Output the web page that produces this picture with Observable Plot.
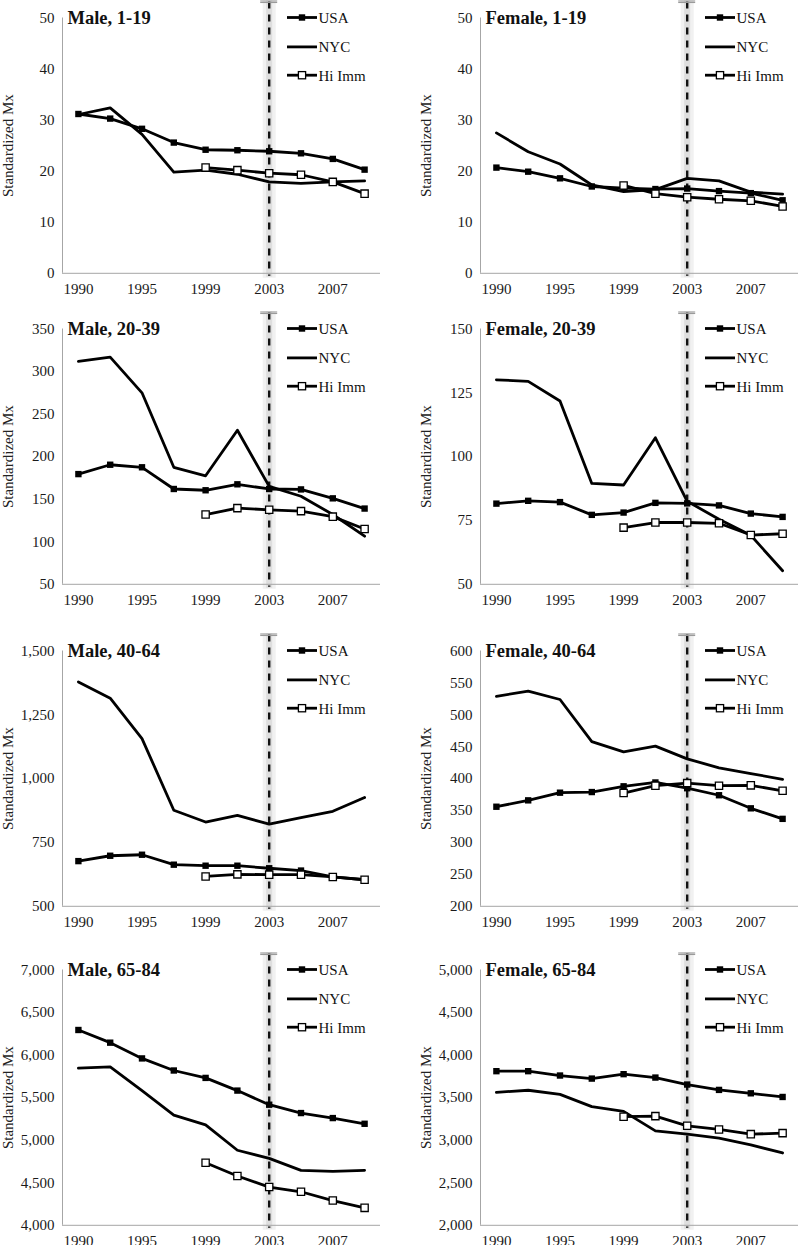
<!DOCTYPE html>
<html><head><meta charset="utf-8">
<script src="https://cdn.jsdelivr.net/npm/d3@7"></script>
<script src="https://cdn.jsdelivr.net/npm/@observablehq/plot@0.6"></script>
<style>
body{margin:0;background:#fff;}
#wrap{position:relative;width:798px;height:1245px;overflow:hidden;background:#fff;}
.panel{position:absolute;}
.panel svg{overflow:visible;font-family:"Liberation Serif","Times New Roman",Times,serif !important;font-size:15px;}
.panel svg text{font-family:"Liberation Serif","Times New Roman",Times,serif !important;}
</style></head><body><div id="wrap"></div>
<script>
// Category years (only every other one is labelled on the axis)
const years = ["1990","1992","1995","1997","1999","2001","2003","2005","2007","2009"];
const tickYears = ["1990","1995","1999","2003","2007"];
const hiImmYears = ["1999","2001","2003","2005","2007","2009"];
const seriesNames = ["USA","NYC","Hi Imm"];
const markerYear = "2003";

// Male, 1-19
const male119Usa = [31.2, 30.3, 28.3, 25.6, 24.2, 24.1, 23.9, 23.5, 22.4, 20.3];
const male119Nyc = [31.1, 32.4, 27.2, 19.8, 20.2, 19.4, 17.9, 17.6, 17.9, 18.1];
const male119Hi  = [20.7, 20.2, 19.6, 19.3, 17.9, 15.6];
// Female, 1-19
const female119Usa = [20.7, 19.9, 18.6, 17.0, 16.7, 16.5, 16.6, 16.1, 15.7, 14.3];
const female119Nyc = [27.5, 23.8, 21.4, 17.3, 16.0, 16.4, 18.6, 18.1, 15.9, 15.5];
const female119Hi  = [17.2, 15.6, 14.9, 14.5, 14.2, 13.1];
// Male, 20-39
const male2039Usa = [179.5, 190.5, 187.5, 162, 160.5, 167.5, 162, 161.5, 151, 139];
const male2039Nyc = [312, 317, 275, 187.5, 177.5, 231, 165, 153.5, 132, 106.5];
const male2039Hi  = [132, 139.5, 137.5, 136, 129.5, 115];
// Female, 20-39
const female2039Usa = [81.6, 82.7, 82.2, 77.2, 78.1, 81.9, 81.7, 80.9, 77.7, 76.4];
const female2039Nyc = [130.1, 129.5, 121.8, 89.5, 88.9, 107.4, 82.5, 75.5, 69.2, 55.3];
const female2039Hi  = [72.2, 74.2, 74.2, 73.9, 69.3, 69.8];
// Male, 40-64
const male4064Usa = [677, 698, 702, 663, 659, 659, 649, 640, 615, 604];
const male4064Nyc = [1379, 1315, 1157, 876, 830, 856, 822, 847, 872, 926];
const male4064Hi  = [617, 625, 624, 624, 615, 604];
// Female, 40-64
const female4064Usa = [356, 366, 378, 379, 388, 394, 385, 374, 353.5, 337];
const female4064Nyc = [529, 537, 524, 458, 442, 451, 431, 417, 408, 399];
const female4064Hi  = [377.5, 389, 393, 389, 389.5, 381];
// Male, 65-84
const male6584Usa = [6295, 6146, 5961, 5819, 5732, 5583, 5417, 5319, 5260, 5193];
const male6584Nyc = [5846, 5862, 5583, 5295, 5181, 4882, 4787, 4646, 4634, 4646];
const male6584Hi  = [4736, 4579, 4449, 4394, 4291, 4205];
// Female, 65-84
const female6584Usa = [3811, 3811, 3760, 3724, 3776, 3736, 3654, 3591, 3551, 3508];
const female6584Nyc = [3563, 3587, 3539, 3394, 3339, 3110, 3071, 3024, 2945, 2850];
const female6584Hi  = [3276, 3283, 3169, 3126, 3071, 3083];

// Y tick labels per panel
const ticks119M = [0, 10, 20, 30, 40, 50];
const ticks119F = [0, 10, 20, 30, 40, 50];
const ticks2039M = [50, 100, 150, 200, 250, 300, 350];
const ticks2039F = [50, 75, 100, 125, 150];
const ticks4064M = [500, 750, 1000, 1250, 1500];
const ticks4064F = [200, 250, 300, 350, 400, 450, 500, 550, 600];
const ticks6584M = [4000, 4500, 5000, 5500, 6000, 6500, 7000];
const ticks6584F = [2000, 2500, 3000, 3500, 4000, 4500, 5000];

const panels = [
  {title:"Male, 1-19", usa:male119Usa, nyc:male119Nyc, hi:male119Hi, ticks:ticks119M},
  {title:"Female, 1-19", usa:female119Usa, nyc:female119Nyc, hi:female119Hi, ticks:ticks119F},
  {title:"Male, 20-39", usa:male2039Usa, nyc:male2039Nyc, hi:male2039Hi, ticks:ticks2039M},
  {title:"Female, 20-39", usa:female2039Usa, nyc:female2039Nyc, hi:female2039Hi, ticks:ticks2039F},
  {title:"Male, 40-64", usa:male4064Usa, nyc:male4064Nyc, hi:male4064Hi, ticks:ticks4064M},
  {title:"Female, 40-64", usa:female4064Usa, nyc:female4064Nyc, hi:female4064Hi, ticks:ticks4064F},
  {title:"Male, 65-84", usa:male6584Usa, nyc:male6584Nyc, hi:male6584Hi, ticks:ticks6584M},
  {title:"Female, 65-84", usa:female6584Usa, nyc:female6584Nyc, hi:female6584Hi, ticks:ticks6584F}
];

const FONT = '"Liberation Serif","Times New Roman",Times,serif';
const rowTops = [0, 310.8, 633.2, 951.8];
const W = 399, H = 300, MT = 17.5, PH = 255.3, MB = H - MT - PH;
const AXIS = "#a6a6a6";
const legendDy = [0, 29.4, 57.7];
const wrap = document.getElementById("wrap");
const idx = y => years.indexOf(y);

panels.forEach((p, k) => {
  const col = k % 2, row = Math.floor(k / 2);
  const ml = col === 0 ? 62 : 81;
  const mr = W - ml - 318;
  const ymin = p.ticks[0], ymax = p.ticks[p.ticks.length - 1];
  const usaRows = years.map((y, i) => ({series:"USA", i:idx(y), value:p.usa[i]}));
  const nycRows = years.map((y, i) => ({series:"NYC", i:idx(y), value:p.nyc[i]}));
  const hiRows = hiImmYears.map((y, i) => ({series:"Hi Imm", i:idx(y), value:p.hi[i]}));
  const all = usaRows.concat(nycRows, hiRows);

  const chart = Plot.plot({
    width: W, height: H,
    marginLeft: ml, marginRight: mr, marginTop: MT, marginBottom: MB,
    style: {fontFamily: FONT, fontSize: "15px", color: "#1a1a1a", background: "transparent", overflow: "visible"},
    x: {type: "linear", domain: [-0.5, years.length - 0.5], ticks: tickYears.map(idx),
        tickFormat: i => years[i], tickSize: 0, tickPadding: 10, label: null},
    y: {domain: [ymin, ymax], ticks: p.ticks, tickFormat: d3.format(","), tickSize: 0, tickPadding: 8, label: null},
    marks: [
      Plot.ruleX([idx(markerYear)], {stroke: "#f1f1f1", strokeWidth: 13, insetTop: -17, insetBottom: -5}),
      Plot.ruleX([idx(markerYear)], {stroke: "#dedede", strokeWidth: 6, insetTop: -17, insetBottom: -4}),
      Plot.ruleY([ymin], {stroke: AXIS, strokeWidth: 1}),
      Plot.ruleX([-0.5], {stroke: AXIS, strokeWidth: 1}),
      Plot.ruleX([idx(markerYear)], {stroke: "#111", strokeWidth: 2.4, strokeDasharray: "7,6", insetTop: -16, insetBottom: -3}),
      Plot.line(all, {x: "i", y: "value", z: "series", stroke: "#000", strokeWidth: 2.8}),
      Plot.dot(usaRows, {x: "i", y: "value", symbol: "square", r: 3.6, fill: "#000", stroke: "none"}),
      Plot.dot(hiRows, {x: "i", y: "value", symbol: "square", r: 4.1, fill: "#fff", stroke: "#000", strokeWidth: 1.3}),
      Plot.text([p.title], {frameAnchor: "top-left", dx: 5, lineAnchor: "middle", textAnchor: "start",
        fontWeight: "bold", fontSize: 18.5, fill: "#111", fontFamily: FONT}),
      ...seriesNames.map((s, j) => Plot.text([s], {frameAnchor: "top-left", dx: 256, dy: legendDy[j],
        lineAnchor: "middle", textAnchor: "start", fontSize: 15, fill: "#111", fontFamily: FONT})),
      Plot.text(["Standardized Mx"], {frameAnchor: "left", rotate: -90, dx: -54.5, lineAnchor: "middle",
        textAnchor: "middle", fontSize: 15, fill: "#222", fontFamily: FONT})
    ]
  });

  // decorations: legend swatches and cap on the 2003 line
  const svg = d3.select(chart);
  const xs = chart.scale("x").apply(idx(markerYear));
  const g = svg.append("g").attr("stroke", "#9a9a9a").attr("stroke-width", 1.1);
  g.append("line").attr("x1", xs - 8.5).attr("x2", xs + 8.5).attr("y1", MT - 16.5).attr("y2", MT - 16.5);
  g.append("line").attr("x1", xs - 8.5).attr("x2", xs + 8.5).attr("y1", MT - 15).attr("y2", MT - 15);

  const lg = svg.append("g");
  const lx0 = ml + 225, lx1 = ml + 255;
  legendDy.forEach((dy, j) => {
    const yy = MT + dy;
    lg.append("line").attr("x1", lx0).attr("x2", lx1).attr("y1", yy).attr("y2", yy)
      .attr("stroke", "#000").attr("stroke-width", 2.8);
    if (j === 0) lg.append("rect").attr("x", (lx0 + lx1) / 2 - 3.2).attr("y", yy - 3.2).attr("width", 6.4).attr("height", 6.4).attr("fill", "#000");
    if (j === 2) lg.append("rect").attr("x", (lx0 + lx1) / 2 - 3.6).attr("y", yy - 3.6).attr("width", 7.2).attr("height", 7.2)
      .attr("fill", "#fff").attr("stroke", "#000").attr("stroke-width", 1.3);
  });

  const div = document.createElement("div");
  div.className = "panel";
  div.style.left = (col * W) + "px";
  div.style.top = rowTops[row] + "px";
  div.appendChild(chart);
  wrap.appendChild(div);
});
</script>
</body></html>
